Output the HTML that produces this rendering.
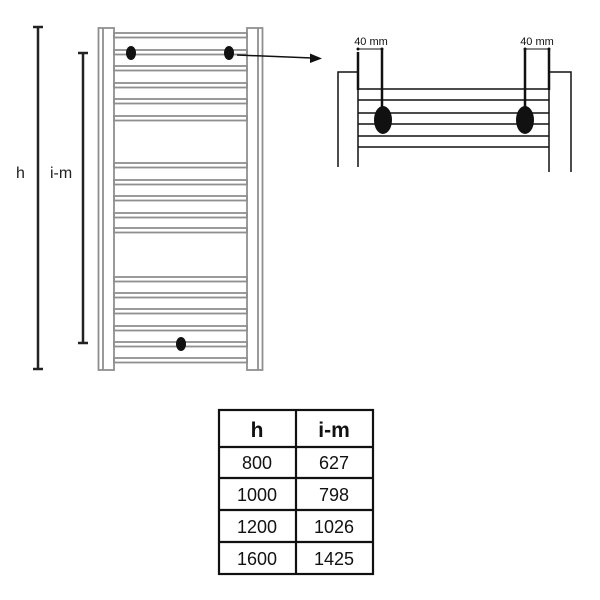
<!DOCTYPE html>
<html><head><style>body{margin:0;background:#fff}svg{display:block}</style></head><body>
<svg width="600" height="600" xmlns="http://www.w3.org/2000/svg" font-family="Liberation Sans, sans-serif">
<rect width="600" height="600" fill="#fff"/>
<g stroke="#8f8f8f" stroke-width="1.8" fill="none">
<rect x="98.5" y="28" width="15.5" height="342"/>
<line x1="103" y1="28" x2="103" y2="370"/>
<rect x="247" y="28" width="15.5" height="342"/>
<line x1="258" y1="28" x2="258" y2="370"/>
<g>
<rect x="114" y="33" width="133" height="4.5"/>
<rect x="114" y="50" width="133" height="4.5"/>
<rect x="114" y="66" width="133" height="4.5"/>
<rect x="114" y="83" width="133" height="4.5"/>
<rect x="114" y="99" width="133" height="4.5"/>
<rect x="114" y="116" width="133" height="4.5"/>
<rect x="114" y="163" width="133" height="4.5"/>
<rect x="114" y="180" width="133" height="4.5"/>
<rect x="114" y="196" width="133" height="4.5"/>
<rect x="114" y="213" width="133" height="4.5"/>
<rect x="114" y="228" width="133" height="4.5"/>
<rect x="114" y="277" width="133" height="4.5"/>
<rect x="114" y="293" width="133" height="4.5"/>
<rect x="114" y="309" width="133" height="4.5"/>
<rect x="114" y="326" width="133" height="4.5"/>
<rect x="114" y="342" width="133" height="4.5"/>
<rect x="114" y="358" width="133" height="4.5"/>
</g>
</g>
<ellipse cx="131" cy="53" rx="5" ry="7" fill="#111"/>
<ellipse cx="229" cy="53" rx="5" ry="7" fill="#111"/>
<ellipse cx="181" cy="344" rx="5" ry="7" fill="#111"/>
<line x1="237" y1="55" x2="312" y2="58" stroke="#111" stroke-width="1.5"/>
<polygon points="322,58.5 310,53.5 310,63" fill="#111"/>
<g stroke="#222" stroke-width="2.5">
<line x1="38" y1="27" x2="38" y2="369"/><line x1="33" y1="27" x2="43" y2="27"/><line x1="33" y1="369" x2="43" y2="369"/>
<line x1="83" y1="53" x2="83" y2="343"/><line x1="78" y1="53" x2="88" y2="53"/><line x1="78" y1="343" x2="88" y2="343"/>
</g>
<text x="16" y="178" font-size="16" fill="#222">h</text>
<text x="50" y="178" font-size="16" fill="#222">i-m</text>
<g stroke="#111" stroke-width="1.5" fill="none">
<polyline points="338,167 338,72 358,72"/>
<line x1="358" y1="52" x2="358" y2="167"/>
<polyline points="571,172 571,72 549,72"/>
<line x1="549" y1="50" x2="549" y2="172"/>
<line x1="358" y1="89" x2="549" y2="89"/>
<line x1="358" y1="100" x2="549" y2="100"/>
<line x1="358" y1="113" x2="549" y2="113"/>
<line x1="358" y1="124" x2="549" y2="124"/>
<line x1="358" y1="136" x2="549" y2="136"/>
<line x1="358" y1="147" x2="549" y2="147"/>
<line x1="382" y1="50" x2="382" y2="108" stroke-width="2.5"/>
<line x1="525" y1="50" x2="525" y2="108" stroke-width="2.5"/>
<line x1="358" y1="49" x2="382" y2="49" stroke-width="1"/>
<line x1="525" y1="49" x2="549" y2="49" stroke-width="1"/>
</g>
<line x1="358" y1="52" x2="358" y2="90" stroke="#111" stroke-width="2.5"/>
<line x1="549" y1="50" x2="549" y2="90" stroke="#111" stroke-width="2.5"/>
<circle cx="358" cy="49" r="1.5" fill="#111"/><circle cx="382" cy="49" r="1.5" fill="#111"/>
<circle cx="525" cy="49" r="1.5" fill="#111"/><circle cx="549" cy="49" r="1.5" fill="#111"/>
<ellipse cx="383" cy="120" rx="9" ry="14" fill="#111"/>
<ellipse cx="525" cy="120" rx="9" ry="14" fill="#111"/>
<text x="371" y="45" font-size="11" text-anchor="middle" fill="#111">40 mm</text>
<text x="537" y="45" font-size="11" text-anchor="middle" fill="#111">40 mm</text>
<g stroke="#111" stroke-width="2.2" fill="none">
<rect x="219" y="410" width="154" height="164"/>
<line x1="296" y1="410" x2="296" y2="574"/>
<line x1="219" y1="447" x2="373" y2="447"/>
<line x1="219" y1="478" x2="373" y2="478"/>
<line x1="219" y1="510" x2="373" y2="510"/>
<line x1="219" y1="542" x2="373" y2="542"/>
</g>
<g font-size="18" text-anchor="middle" fill="#111">
<text x="257" y="437" font-weight="bold" font-size="21">h</text>
<text x="334" y="437" font-weight="bold" font-size="21">i-m</text>
<text x="257" y="469">800</text><text x="334" y="469">627</text>
<text x="257" y="501">1000</text><text x="334" y="501">798</text>
<text x="257" y="533">1200</text><text x="334" y="533">1026</text>
<text x="257" y="565">1600</text><text x="334" y="565">1425</text>
</g>
</svg>
</body></html>
